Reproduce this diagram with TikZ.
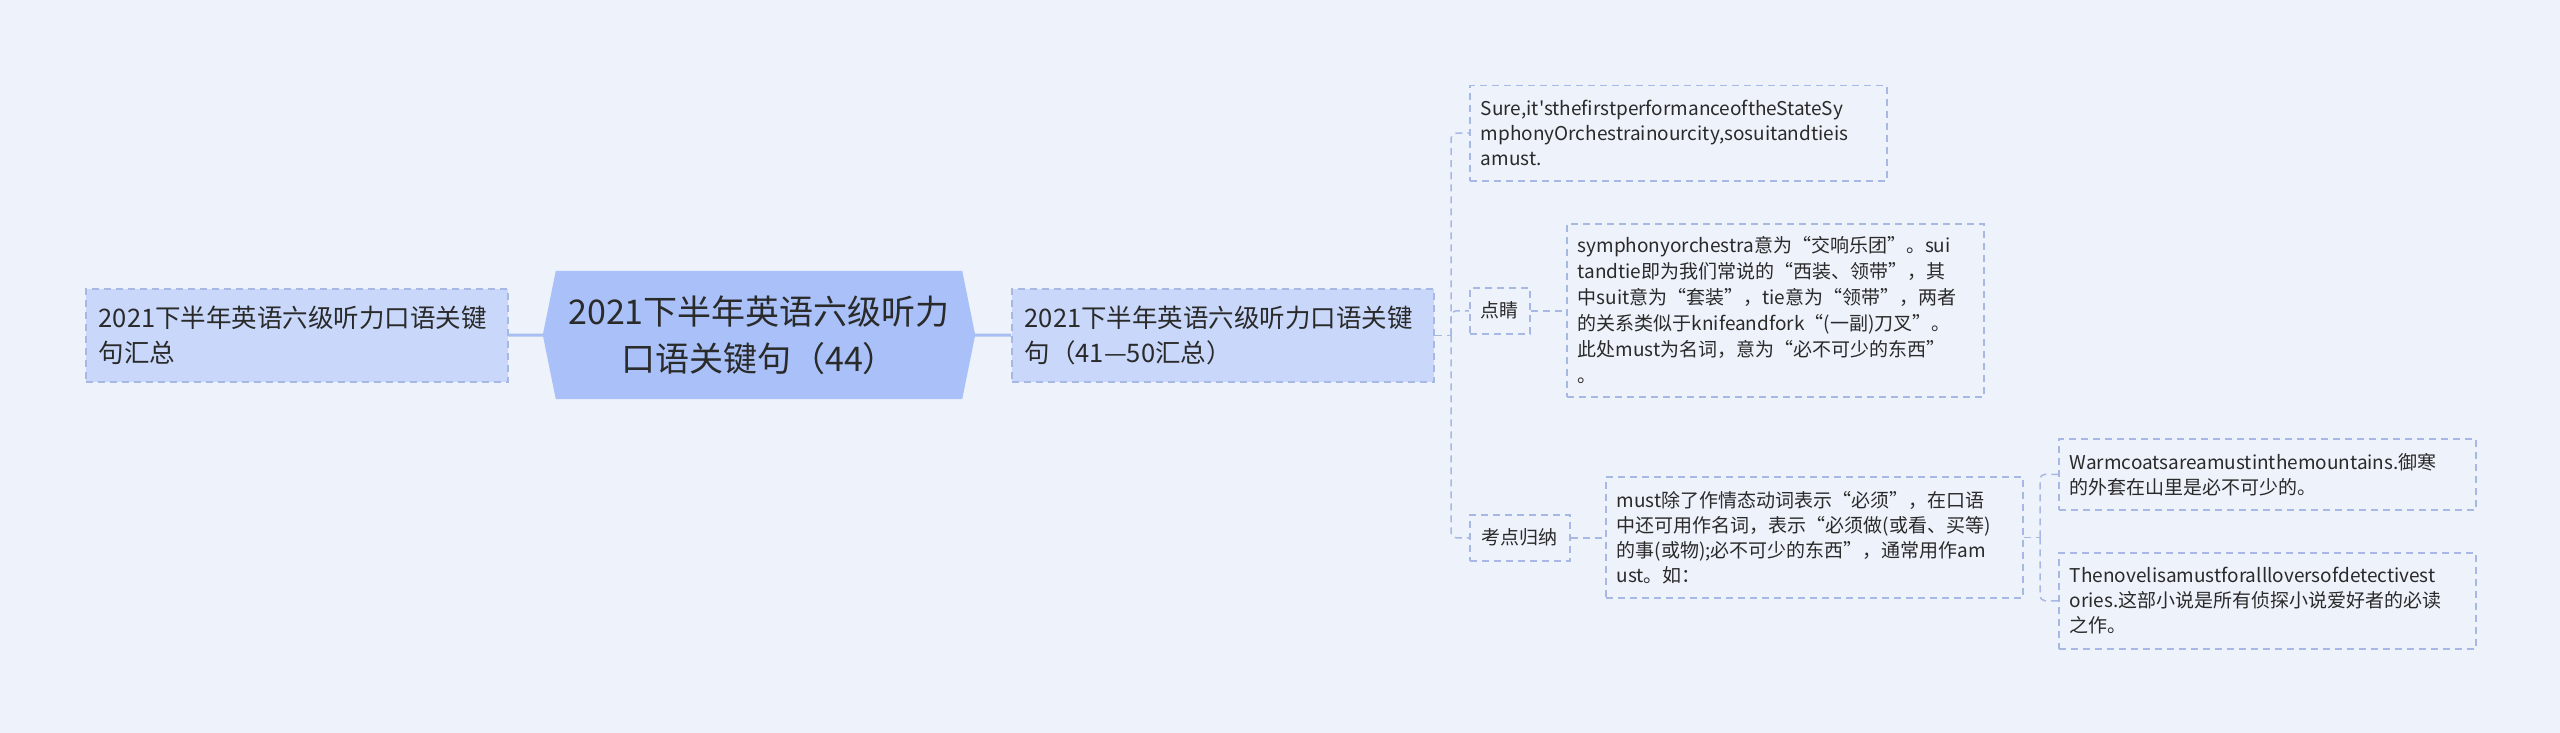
\documentclass[tikz,border=0pt]{standalone}
\usepackage{fontspec}
\setmainfont{Noto Sans CJK SC}
\usetikzlibrary{backgrounds,calc}
\definecolor{bgc}{HTML}{EEF2FB}
\definecolor{mainfill}{HTML}{C9D8FA}
\definecolor{centerfill}{HTML}{A9C1F8}
\definecolor{bordc}{HTML}{A7B8E4}
\definecolor{solidc}{HTML}{A9BEF2}
\definecolor{txt}{HTML}{2A2A2A}
\tikzset{
  dsh/.style={dash pattern=on 7pt off 5pt, line width=1.5pt, draw=bordc},
  boxbase/.style={dsh, anchor=north west, align=left, text=txt, inner ysep=0pt},
  mainbox/.style={boxbase, fill=mainfill, inner xsep=13pt, font=\fontsize{25.5}{35}\selectfont},
  leafbox/.style={boxbase, fill=bgc, inner xsep=11pt, font=\fontsize{19}{25}\selectfont},
  tagbox/.style={dsh, anchor=north west, align=center, text=txt, fill=bgc, inner sep=0pt, font=\fontsize{19}{25}\selectfont},
  dconn/.style={dsh, rounded corners=5pt},
  sconn/.style={draw=solidc, line width=3pt}
}
\begin{document}
\begin{tikzpicture}[x=1pt,y=-1pt]
\useasboundingbox (0,0) rectangle (2560,733);
\begin{scope}[on background layer]
\fill[bgc] (0,0) rectangle (2560,733);
\end{scope}

% main nodes
\node[mainbox, text width=396pt, minimum height=93pt] (L) at (85,288)
  {2021下半年英语六级听力口语关键\\句汇总};
\node[align=center, text=txt, minimum width=432pt, minimum height=128pt, inner sep=0pt,
  font=\fontsize{34}{47}\selectfont] (C) at (759,335)
  {2021下半年英语六级听力\\口语关键句（44）};
\node[mainbox, text width=396pt, minimum height=93pt] (R) at (1011,288)
  {2021下半年英语六级听力口语关键\\句（41—50汇总）};

% first-level children
\node[leafbox, text width=395pt, minimum height=95pt] (S) at (1469,85)
  {Sure,it\textquotesingle{}sthefirstperformanceoftheStateSy\\mphonyOrchestrainourcity,sosuitandtieis\\amust.};
\node[tagbox, minimum width=60pt, minimum height=46pt] (D) at (1469,287) {点睛};
\node[leafbox, text width=395pt, minimum height=173pt, font=\fontsize{19}{26}\selectfont] (Y) at (1566,223)
  {symphonyorchestra意为“交响乐团”。sui\\tandtie即为我们常说的“西装、领带”，其\\中suit意为“套装”，tie意为“领带”，两者\\的关系类似于knifeandfork“(一副)刀叉”。\\此处must为名词，意为“必不可少的东西”\\。};
\node[tagbox, minimum width=100pt, minimum height=46pt] (K) at (1469,514) {考点归纳};
\node[leafbox, text width=395pt, minimum height=121pt] (M) at (1605,476)
  {must除了作情态动词表示“必须”，在口语\\中还可用作名词，表示“必须做(或看、买等)\\的事(或物);必不可少的东西”，通常用作am\\ust。如：};
\node[leafbox, text width=395pt, minimum height=71pt] (W) at (2058,438)
  {Warmcoatsareamustinthemountains.御寒\\的外套在山里是必不可少的。};
\node[leafbox, text width=395pt, minimum height=96pt] (N) at (2058,552)
  {Thenovelisamustforallloversofdetectivest\\ories.这部小说是所有侦探小说爱好者的必读\\之作。};

% hexagon behind the central title
\begin{scope}[on background layer]
\fill[centerfill] (C.west) -- ([xshift=13pt]C.north west) -- ([xshift=-13pt]C.north east)
  -- (C.east) -- ([xshift=-13pt]C.south east) -- ([xshift=13pt]C.south west) -- cycle;
\end{scope}

% connectors
\draw[sconn] (L.east) -- (C.west);
\draw[sconn] (C.east) -- (R.west);

\coordinate (sp1) at (1451,0);
\coordinate (j1) at (R.east -| sp1);
\draw[dsh] (R.east) -- (j1);
\draw[dconn] (j1) |- (S.west);
\draw[dconn] (j1) |- (D.west);
\draw[dconn] (j1) |- (K.west);
\draw[dsh] (D.east) -- (D.east -| Y.west);
\draw[dsh] (K.east) -- (K.east -| M.west);

\coordinate (sp2) at (2040,0);
\coordinate (j2) at (M.east -| sp2);
\draw[dsh] (M.east) -- (j2);
\draw[dconn] (j2) |- (W.west);
\draw[dconn] (j2) |- (N.west);
\end{tikzpicture}
\end{document}
